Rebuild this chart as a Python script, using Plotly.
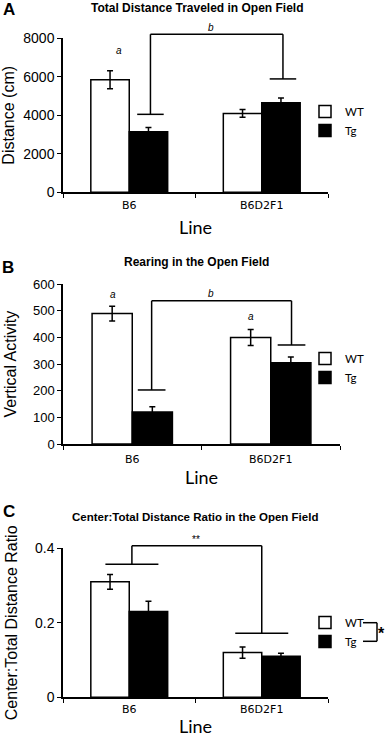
import plotly.graph_objects as go

# ---------------- data ----------------
categories = ["B6", "B6D2F1"]
group_names = ["WT", "Tg"]

distance_wt = [5850, 4100]
distance_wt_err = [470, 200]
distance_tg = [3150, 4650]
distance_tg_err = [220, 250]

rearing_wt = [490, 400]
rearing_wt_err = [28, 30]
rearing_tg = [120, 305]
rearing_tg_err = [20, 22]

ratio_wt = [0.31, 0.12]
ratio_wt_err = [0.02, 0.015]
ratio_tg = [0.23, 0.11]
ratio_tg_err = [0.028, 0.008]

# ---------------- helpers ----------------
W, H = 387, 737


def px(x):
    return x / W


def py(y):
    return 1 - y / H


ARIAL = "Liberation Sans, Arial, sans-serif"
TICKFONT_CAT = dict(family="DejaVu Sans, Verdana, sans-serif", size=11, color="black")
LEGFONT = dict(family="Lato, Calibri, sans-serif", size=11.5, color="black")

panels = [
    dict(s="", leg="legend", wt=distance_wt, wte=distance_wt_err, tg=distance_tg, tge=distance_tg_err),
    dict(s="2", leg="legend2", wt=rearing_wt, wte=rearing_wt_err, tg=rearing_tg, tge=rearing_tg_err),
    dict(s="3", leg="legend3", wt=ratio_wt, wte=ratio_wt_err, tg=ratio_tg, tge=ratio_tg_err),
]

fig = go.Figure()
for p in panels:
    fig.add_bar(
        x=categories, y=p["wt"], name=group_names[0],
        marker=dict(color="white", line=dict(color="black", width=1.5)),
        error_y=dict(type="data", array=p["wte"], color="black", thickness=1.5, width=3),
        xaxis="x" + p["s"], yaxis="y" + p["s"], legend=p["leg"],
    )
    fig.add_bar(
        x=categories, y=p["tg"], name=group_names[1],
        marker=dict(color="black", line=dict(color="black", width=1.5)),
        error_y=dict(type="data", array=p["tge"], color="black", thickness=1.5, width=3),
        xaxis="x" + p["s"], yaxis="y" + p["s"], legend=p["leg"],
    )


def xax(domain, anchor, standoff_lbl, title_standoff):
    return dict(
        domain=domain, anchor=anchor, type="category", range=[-0.5, 1.5],
        showline=True, linecolor="black", linewidth=1.5, mirror=False,
        ticks="outside", tickson="boundaries", ticklen=4, tickwidth=1.2, tickcolor="black",
        tickfont=TICKFONT_CAT, showgrid=False, zeroline=False,
        ticklabelstandoff=standoff_lbl,
        title=dict(text="Line", font=dict(family="Lato, Calibri, sans-serif", size=18, color="black"),
                   standoff=title_standoff),
    )


def yax(domain, anchor, rng, tickvals, ticktext, title, standoff, tsize):
    return dict(
        domain=domain, anchor=anchor, range=rng, tickvals=tickvals, ticktext=ticktext,
        showline=True, linecolor="black", linewidth=1.5,
        ticks="outside", ticklen=4, tickwidth=1.2, tickcolor="black",
        tickfont=dict(family=ARIAL, size=tsize, color="black"),
        showgrid=False, zeroline=False,
        title=dict(text=title, font=dict(family=ARIAL, size=16, color="black"), standoff=standoff),
    )


def leg(ytop):
    return dict(x=px(305), y=py(ytop), xanchor="left", yanchor="top", font=LEGFONT,
                bgcolor="rgba(0,0,0,0)")


fig.update_layout(
    width=W, height=H, margin=dict(l=0, r=0, t=0, b=0, autoexpand=False),
    paper_bgcolor="white", plot_bgcolor="white",
    barmode="group", bargap=0.42, bargroupgap=0,
    font=dict(family=ARIAL, color="black"),
    xaxis=xax([px(63), px(328)], "y", 2, 10),
    yaxis=yax([py(192.3), py(38.3)], "x", [0, 8000], [0, 2000, 4000, 6000, 8000],
              ["0", "2000", "4000", "6000", "8000"], "Distance (cm)", 5, 14),
    xaxis2=xax([px(63), px(340)], "y2", 4, 6),
    yaxis2=yax([py(444), py(284.3)], "x2", [0, 600], [0, 100, 200, 300, 400, 500, 600],
               ["0", "100", "200", "300", "400", "500", "600"], "Vertical Activity", 12, 13),
    xaxis3=xax([px(63), px(328)], "y3", 1, 10),
    yaxis3=yax([py(697.3), py(548.3)], "x3", [0, 0.4], [0, 0.2, 0.4],
               ["0", "0.2", "0.4"], "Center:Total Distance Ratio", 13, 14),
    legend=leg(97),
    legend2=leg(344),
    legend3=leg(608),
)

shapes = []
annotations = []
LINE = dict(color="black", width=1.5)


def fx(v):
    return (v + 0.5) / 2.0


def bracket(s, ymax, x_left, y_left, x_right, y_right, y_top, half=0.1):
    """Significance bracket drawn in axis-domain fractions of subplot s."""
    xr, yr = "x%s domain" % s, "y%s domain" % s
    segs = [
        (x_left, y_top, x_right, y_top),
        (x_left, y_left, x_left, y_top),
        (x_right, y_right, x_right, y_top),
        (x_left - half, y_left, x_left + half, y_left),
        (x_right - half, y_right, x_right + half, y_right),
    ]
    for x0, y0, x1, y1 in segs:
        shapes.append(dict(type="line", xref=xr, yref=yr, x0=fx(x0), y0=y0 / ymax, x1=fx(x1), y1=y1 / ymax,
                           line=LINE))


bracket("", 8000, 0.16, 4050, 1.16, 5890, 8210)
bracket("2", 600, 0.14, 203, 1.15, 372, 538)
bracket("3", 0.4, 0.02, 0.357, 1.0, 0.172, 0.407, half=0.2)


def note(text, x, y, xref, yref, size=10, italic=True, bold=False):
    t = text
    if italic:
        t = "<i>%s</i>" % t
    if bold:
        t = "<b>%s</b>" % t
    annotations.append(dict(text=t, x=x, y=y, xref=xref, yref=yref, showarrow=False,
                            font=dict(family=ARIAL, size=size, color="black"),
                            xanchor="center", yanchor="middle"))


# significance letters (domain refs so labels above the axis range stay visible)
note("a", fx(-0.08), 7390 / 8000, "x domain", "y domain")
note("b", fx(0.62), 8570 / 8000, "x domain", "y domain")
note("a", fx(-0.14), 563 / 600, "x2 domain", "y2 domain")
note("a", fx(0.86), 478 / 600, "x2 domain", "y2 domain")
note("b", fx(0.57), 567 / 600, "x2 domain", "y2 domain")
note("**", fx(0.5), 0.424 / 0.4, "x3 domain", "y3 domain", italic=False)

# panel titles
for txt, x, y, size in [
    ("Total Distance Traveled in Open Field", 197, 8, 12),
    ("Rearing in the Open Field", 196, 262, 12),
    ("Center:Total Distance Ratio in the Open Field", 195, 517, 11.5),
]:
    note(txt, px(x), py(y), "paper", "paper", size=size, italic=False, bold=True)

# panel letters
for txt, x, y in [("A", 9, 9), ("B", 8, 267), ("C", 9, 512)]:
    note(txt, px(x), py(y), "paper", "paper", size=17, italic=False, bold=True)

# legend bracket in panel C
for x0, y0, x1, y1 in [(363, 622.7, 377, 622.7), (363, 641.3, 377, 641.3), (377, 622.7, 377, 641.3)]:
    shapes.append(dict(type="line", xref="paper", yref="paper", x0=px(x0), y0=py(y0), x1=px(x1), y1=py(y1),
                       line=LINE))
note("*", px(381.5), py(633), "paper", "paper", size=16, italic=False, bold=True)

fig.update_layout(shapes=shapes, annotations=annotations)
fig.write_html(
    "out.html",
    config={"displayModeBar": False},
    post_script="document.body.style.margin='0';document.body.style.padding='0';"
                "document.documentElement.style.overflow='hidden';",
)
